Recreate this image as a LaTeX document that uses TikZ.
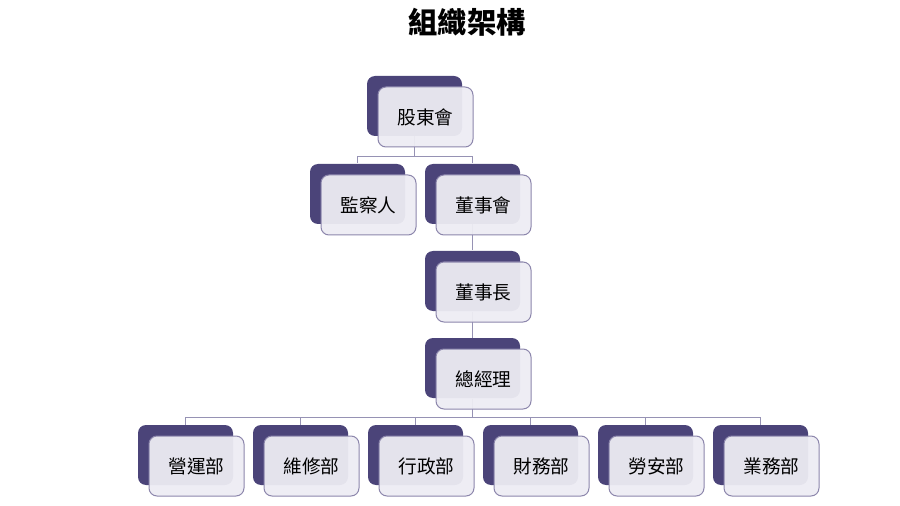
\documentclass[tikz,border=0pt]{standalone}
\usepackage{fontspec}
\newfontfamily\cjk{Noto Sans CJK TC}
\usetikzlibrary{positioning}
\definecolor{darkbox}{RGB}{75,68,121}
\definecolor{frontfill}{RGB}{237,236,243}
\definecolor{frontline}{RGB}{140,134,172}
\definecolor{linkline}{RGB}{150,146,180}
\tikzset{every picture/.style={line width=0.75pt},
  back/.style={fill=darkbox, rounded corners=6pt, minimum width=71.25pt, minimum height=45pt, inner sep=0pt},
  front/.style={draw=frontline, fill=frontfill, fill opacity=0.95, text opacity=1, rounded corners=6pt, minimum width=71.25pt, minimum height=45pt, inner sep=0pt, font=\cjk\fontsize{14}{16}\selectfont, xshift=8.25pt, yshift=-8.25pt},
  link/.style={draw=linkline, line width=0.6pt}}
\begin{document}
\begin{tikzpicture}[x=0.75pt,y=0.75pt,yscale=-1,xscale=1]
	\useasboundingbox (0,0) rectangle (900,506);
	% Title
	\node (title) at (467,22) {\cjk\bfseries\fontsize{22}{26}\selectfont 組織架構};
	% Back boxes
	\node [back] (gd) at (414.5,106) {};
	\node [back] (js) at (357.5,194) {};
	\node [back] (dsh) at (472.5,194) {};
	\node [back] (dsz) at (472.5,281) {};
	\node [back] (zjl) at (472.5,368) {};
	\foreach \i/\n in {0/yy,1/wx,2/xz,3/cw,4/la,5/yw}
		\node [back] (\n) at (185.5+115*\i,455) {};
	% Connectors
	\draw [link] (gd.south) -- ++(0,20) -| (js.north);
	\draw [link] (gd.south) -- ++(0,20) -| (dsh.north);
	\draw [link] (dsh.south) -- (dsz.north);
	\draw [link] (dsz.south) -- (zjl.north);
	\foreach \n in {yy,wx,xz,cw,la,yw}
		\draw [link] (zjl.south) -- ++(0,19) -| (\n.north);
	% Front boxes
	\node [front] at (gd.center) {股東會};
	\node [front] at (js.center) {監察人};
	\node [front] at (dsh.center) {董事會};
	\node [front] at (dsz.center) {董事長};
	\node [front] at (zjl.center) {總經理};
	\foreach \n/\t in {yy/營運部,wx/維修部,xz/行政部,cw/財務部,la/勞安部,yw/業務部}
		\node [front] at (\n.center) {\t};
\end{tikzpicture}
\end{document}
